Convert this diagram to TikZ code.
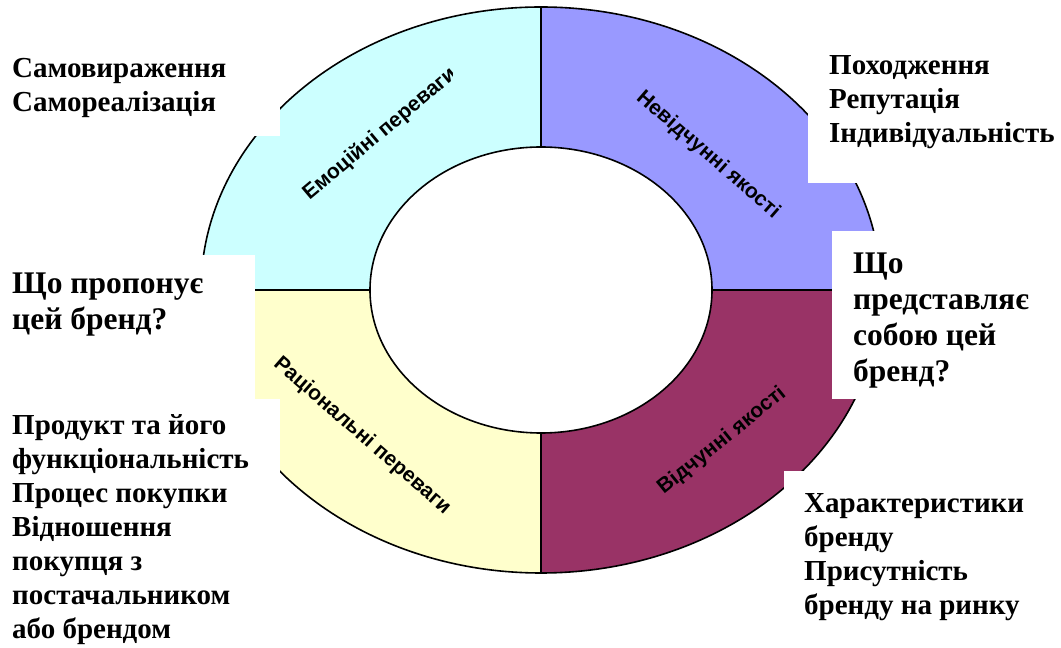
\documentclass[tikz,border=0pt]{standalone}
\usepackage{fontspec}
\setmainfont{Liberation Serif}[BoldFont={Liberation Serif Bold}]
\newfontfamily\arialfont{Liberation Sans}[BoldFont={Liberation Sans Bold}]
\usepackage{tikz}
\definecolor{emocyan}{HTML}{CCFFFF}
\definecolor{nevblue}{HTML}{9999FF}
\definecolor{ratyellow}{HTML}{FFFFCC}
\definecolor{vidplum}{HTML}{993366}
\tikzset{
    every node/.style={inner sep=0pt},
    ring/.style={draw=black,line width=1.6pt,line join=round},
    cover/.style={fill=white},
    plain/.style={font=\fontsize{29}{34}\selectfont\bfseries,align=left,anchor=base west},
    ask/.style={font=\fontsize{31.5}{36}\selectfont\bfseries,align=left,anchor=base west},
    arclabel/.style={font=\arialfont\fontsize{21}{21}\selectfont\bfseries}
}

\begin{document}
\begin{tikzpicture}[x=1pt,y=1pt]
    \useasboundingbox (0,0) rectangle (1061,648);
    % ring quadrants
    \begin{scope}[shift={(541,358)}]
        \path[ring,fill=emocyan] (0,283) arc[start angle=90,end angle=180,x radius=340,y radius=283]
            -- (-171,0) arc[start angle=180,end angle=90,x radius=171,y radius=143] -- cycle;
        \path[ring,fill=nevblue] (0,283) arc[start angle=90,end angle=0,x radius=340,y radius=283]
            -- (171,0) arc[start angle=0,end angle=90,x radius=171,y radius=143] -- cycle;
        \path[ring,fill=ratyellow] (-340,0) arc[start angle=180,end angle=270,x radius=340,y radius=283]
            -- (0,-143) arc[start angle=270,end angle=180,x radius=171,y radius=143] -- cycle;
        \path[ring,fill=vidplum] (0,-283) arc[start angle=270,end angle=360,x radius=340,y radius=283]
            -- (171,0) arc[start angle=0,end angle=-90,x radius=171,y radius=143] -- cycle;
    \end{scope}
    % labels in the ring
    \begin{scope}
        \clip (0,0) rectangle (452,648);
        \node[arclabel,rotate=40] (emo) at (380,514) {Емоційні переваги};
        \node[arclabel,rotate=-41] (rat) at (362,212) {Раціональні переваги};
    \end{scope}
    \node[arclabel,rotate=-41] (nev) at (708,493) {Невідчунні якості};
    \node[arclabel,rotate=39] (vid) at (722,207) {Відчунні якості};
    % white text boxes
    \fill[cover] (0,648) rectangle (280,512);
    \fill[cover] (0,393) rectangle (255,249);
    \fill[cover] (0,249) rectangle (280,0);
    \fill[cover] (808,608) rectangle (1061,465);
    \fill[cover] (832,417) rectangle (1061,249);
    \fill[cover] (784,177) rectangle (1061,0);
    % texts (anchored at the last baseline)
    \node[plain] (self) at (12,536) {Самовираження\\Самореалізація};
    \node[ask] (offer) at (12,318) {Що пропонує\\цей бренд?};
    \node[plain] (product) at (12,9) {Продукт та його\\функціональність\\Процес покупки\\Відношення\\покупця з\\постачальником\\або брендом};
    \node[plain] (origin) at (829,505) {Походження\\Репутація\\Індивідуальність};
    \node[ask] (what) at (853,266) {Що\\представляє\\собою цей\\бренд?};
    \node[plain] (traits) at (804,33) {Характеристики\\бренду\\Присутність\\бренду на ринку};
\end{tikzpicture}
\end{document}
